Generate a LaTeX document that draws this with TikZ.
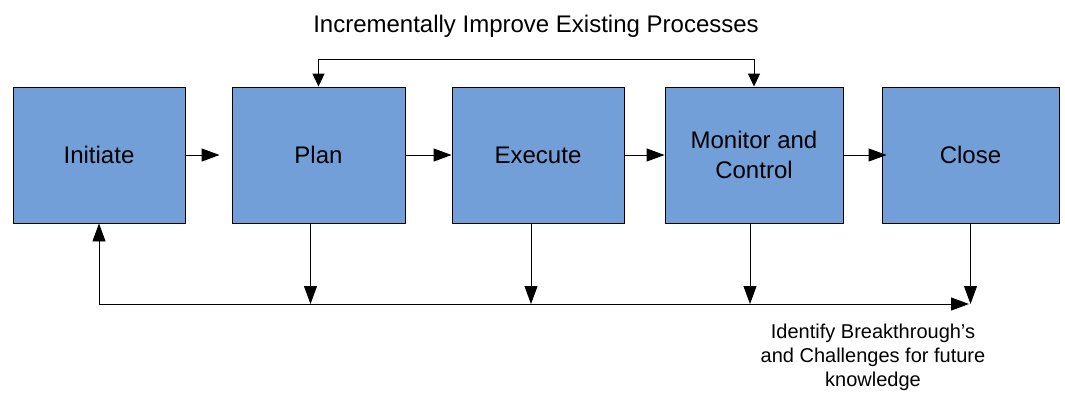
\documentclass[tikz,border=0pt]{standalone}
\usepackage{fontspec}
\setmainfont{Liberation Sans}
\usetikzlibrary{arrows.meta}
\definecolor{phaseblue}{RGB}{114,159,216}
\begin{document}
\begin{tikzpicture}[x=1pt,y=-1pt,
  phase/.style={draw=black,line width=0.9pt,fill=phaseblue,minimum height=136pt,inner sep=0pt,align=center,font=\fontsize{24}{30}\selectfont},
  flow/.style={line width=0.9pt,-{Triangle[length=18pt,width=13pt]}},
  loop/.style={line width=0.9pt,{Triangle[length=13pt,width=12pt]}-{Triangle[length=13pt,width=12pt]}}]
\useasboundingbox (0,0) rectangle (1065,392);
\node [phase,minimum width=172pt] (ini) at (99,155) {Initiate};
\node [phase,minimum width=173pt] (pla) at (318.5,155) {Plan};
\node [phase,minimum width=172pt] (exe) at (538,155) {Execute};
\node [phase,minimum width=178pt] (mon) at (754,155) {Monitor and\\Control};
\node [phase,minimum width=177pt] (clo) at (970.5,155) {Close};
\node [inner sep=0pt,font=\fontsize{24}{29}\selectfont] (imp) at (536,26) {Incrementally Improve Existing Processes};
\node [inner sep=0pt,align=center,font=\fontsize{20}{24}\selectfont] (idf) at (873,357) {Identify Breakthrough’s\\and Challenges for future\\knowledge};
\coordinate (top) at (0,59);
\coordinate (base) at (0,304);
\coordinate (end) at (969,304);
\draw [flow] (ini.east) -- ([xshift=-12pt]pla.west);
\draw [flow] (pla.east) -- (exe.west);
\draw [flow] (exe.east) -- (mon.west);
\draw [flow] (mon.east) -- ([xshift=5pt]clo.west);
\draw [loop] (pla.north) -- (pla.north |- top) -- (mon.north |- top) -- (mon.north);
\draw [flow] (ini.south |- base) -- (ini.south);
\draw [flow] (ini.south |- base) -- (end);
\draw [flow] ([xshift=-8pt]pla.south) -- ([xshift=-8pt]pla.south |- base);
\draw [flow] ([xshift=-7pt]exe.south) -- ([xshift=-7pt]exe.south |- base);
\draw [flow] ([xshift=-4pt]mon.south) -- ([xshift=-4pt]mon.south |- base);
\draw [flow] (clo.south) -- (clo.south |- end);
\end{tikzpicture}
\end{document}
